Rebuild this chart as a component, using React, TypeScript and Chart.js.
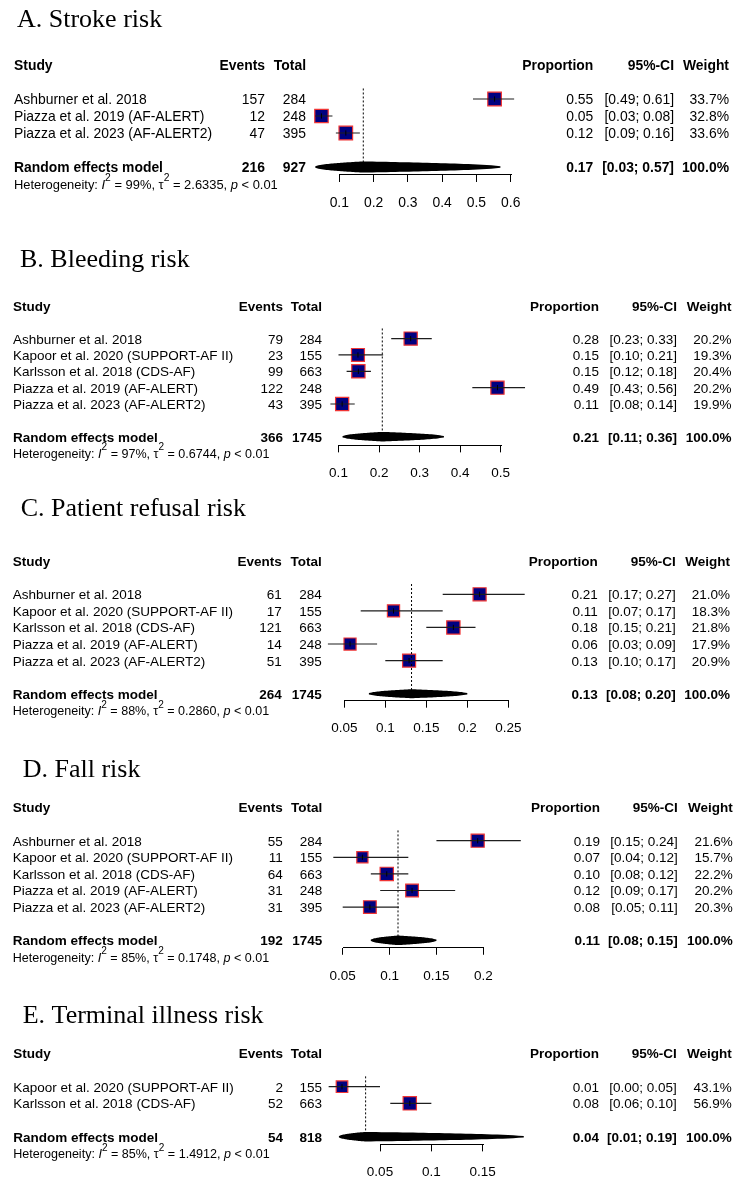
import React, { useEffect, useRef } from "react";
import { Chart, registerables } from "chart.js";

Chart.register(...registerables);

const SANS = '"Liberation Sans", Arial, Helvetica, sans-serif';
const SERIF = '"Liberation Serif", "Times New Roman", Times, serif';

// ---------------- A. Stroke risk ----------------
const titleA = "A. Stroke risk";
const studiesA = ["Ashburner et al. 2018", "Piazza et al. 2019 (AF-ALERT)", "Piazza et al. 2023 (AF-ALERT2)"];
const eventsA = [157, 12, 47];
const totalsA = [284, 248, 395];
const propA = [0.553, 0.048, 0.119];
const lowerA = [0.49, 0.03, 0.09];
const upperA = [0.61, 0.08, 0.16];
const weightA = [33.7, 32.8, 33.6];
const pooledCountsA = [216, 927];
const pooledEstA = [0.17, 0.03, 0.57];
const hetA = [99, 2.6335];
const ticksA = [0.1, 0.2, 0.3, 0.4, 0.5, 0.6];

// ---------------- B. Bleeding risk ----------------
const titleB = "B. Bleeding risk";
const studiesB = [
  "Ashburner et al. 2018",
  "Kapoor et al. 2020 (SUPPORT-AF II)",
  "Karlsson et al. 2018 (CDS-AF)",
  "Piazza et al. 2019 (AF-ALERT)",
  "Piazza et al. 2023 (AF-ALERT2)",
];
const eventsB = [79, 23, 99, 122, 43];
const totalsB = [284, 155, 663, 248, 395];
const propB = [0.278, 0.148, 0.149, 0.492, 0.109];
const lowerB = [0.23, 0.1, 0.12, 0.43, 0.08];
const upperB = [0.33, 0.21, 0.18, 0.56, 0.14];
const weightB = [20.2, 19.3, 20.4, 20.2, 19.9];
const pooledCountsB = [366, 1745];
const pooledEstB = [0.208, 0.11, 0.36];
const hetB = [97, 0.6744];
const ticksB = [0.1, 0.2, 0.3, 0.4, 0.5];

// ---------------- C. Patient refusal risk ----------------
const titleC = "C. Patient refusal risk";
const studiesC = studiesB;
const eventsC = [61, 17, 121, 14, 51];
const totalsC = [284, 155, 663, 248, 395];
const propC = [0.215, 0.11, 0.183, 0.057, 0.129];
const lowerC = [0.17, 0.07, 0.15, 0.03, 0.1];
const upperC = [0.27, 0.17, 0.21, 0.09, 0.17];
const weightC = [21.0, 18.3, 21.8, 17.9, 20.9];
const pooledCountsC = [264, 1745];
const pooledEstC = [0.132, 0.08, 0.2];
const hetC = [88, 0.286];
const ticksC = [0.05, 0.1, 0.15, 0.2, 0.25];

// ---------------- D. Fall risk ----------------
const titleD = "D. Fall risk";
const studiesD = studiesB;
const eventsD = [55, 11, 64, 31, 31];
const totalsD = [284, 155, 663, 248, 395];
const propD = [0.194, 0.071, 0.097, 0.124, 0.079];
const lowerD = [0.15, 0.04, 0.08, 0.09, 0.05];
const upperD = [0.24, 0.12, 0.12, 0.17, 0.11];
const weightD = [21.6, 15.7, 22.2, 20.2, 20.3];
const pooledCountsD = [192, 1745];
const pooledEstD = [0.109, 0.08, 0.15];
const hetD = [85, 0.1748];
const ticksD = [0.05, 0.1, 0.15, 0.2];

// ---------------- E. Terminal illness risk ----------------
const titleE = "E. Terminal illness risk";
const studiesE = ["Kapoor et al. 2020 (SUPPORT-AF II)", "Karlsson et al. 2018 (CDS-AF)"];
const eventsE = [2, 52];
const totalsE = [155, 663];
const propE = [0.013, 0.079];
const lowerE = [0.0, 0.06];
const upperE = [0.05, 0.1];
const weightE = [43.1, 56.9];
const pooledCountsE = [54, 818];
const pooledEstE = [0.036, 0.01, 0.19];
const hetE = [85, 1.4912];
const ticksE = [0.05, 0.1, 0.15];

type Panel = {
  title: string;
  studies: string[];
  events: number[];
  totals: number[];
  prop: number[];
  lower: number[];
  upper: number[];
  weight: number[];
  pooledCounts: number[];
  pooledEst: number[];
  het: number[];
  ticks: number[];
};

const panels: Panel[] = [
  { title: titleA, studies: studiesA, events: eventsA, totals: totalsA, prop: propA, lower: lowerA, upper: upperA, weight: weightA, pooledCounts: pooledCountsA, pooledEst: pooledEstA, het: hetA, ticks: ticksA },
  { title: titleB, studies: studiesB, events: eventsB, totals: totalsB, prop: propB, lower: lowerB, upper: upperB, weight: weightB, pooledCounts: pooledCountsB, pooledEst: pooledEstB, het: hetB, ticks: ticksB },
  { title: titleC, studies: studiesC, events: eventsC, totals: totalsC, prop: propC, lower: lowerC, upper: upperC, weight: weightC, pooledCounts: pooledCountsC, pooledEst: pooledEstC, het: hetC, ticks: ticksC },
  { title: titleD, studies: studiesD, events: eventsD, totals: totalsD, prop: propD, lower: lowerD, upper: upperD, weight: weightD, pooledCounts: pooledCountsD, pooledEst: pooledEstD, het: hetD, ticks: ticksD },
  { title: titleE, studies: studiesE, events: eventsE, totals: totalsE, prop: propE, lower: lowerE, upper: upperE, weight: weightE, pooledCounts: pooledCountsE, pooledEst: pooledEstE, het: hetE, ticks: ticksE },
];

// ---------------- Layout (page pixels) ----------------
type Layout = {
  top: number;
  titleX: number;
  titleBase: number;
  row0: number;
  rowH: number;
  axisOff: number;
  px0: number;
  px1: number;
  fs: number;
  cols: number[];
  textX: number;
  sqMax: number;
  diaH: number;
};

const layouts: Layout[] = [
  { top: 0, titleX: 17, titleBase: 27, row0: 99, rowH: 17, axisOff: 0.47, px0: 339.3, px1: 510.7, fs: 13.9, cols: [265, 306, 593.3, 674, 729], textX: 14, sqMax: 13.6, diaH: 5.6 },
  { top: 232, titleX: 20, titleBase: 266.7, row0: 338.6, rowH: 16.35, axisOff: 0.53, px0: 338.5, px1: 500.7, fs: 13.5, cols: [283, 322, 599, 677, 731.5], textX: 13, sqMax: 13.3, diaH: 4.8 },
  { top: 482, titleX: 20.7, titleBase: 516, row0: 594.3, rowH: 16.57, axisOff: 0.42, px0: 344.3, px1: 508.3, fs: 13.5, cols: [281.7, 321.7, 597.7, 675.7, 730], textX: 12.7, sqMax: 13.3, diaH: 4.5 },
  { top: 740, titleX: 22.7, titleBase: 776.7, row0: 840.7, rowH: 16.6, axisOff: 0.45, px0: 342.7, px1: 483.3, fs: 13.5, cols: [282.7, 322.3, 600, 677.7, 732.7], textX: 12.7, sqMax: 13.3, diaH: 4.8 },
  { top: 1000, titleX: 22.7, titleBase: 1023, row0: 1086.7, rowH: 16.67, axisOff: 0.46, px0: 380, px1: 482.7, fs: 13.5, cols: [283, 322, 599, 676.7, 731.7], textX: 13.3, sqMax: 13.3, diaH: 4.8 },
];

const TICK_LEN = 7;
const TICK_PAD = 13;
const TOP_ROW = -2.9;
const CANVAS_W = 744;
const AREA_L = 300;
const AREA_R = 545;

function ForestPanel({ p, L }: { p: Panel; L: Layout }) {
  const ref = useRef<HTMLCanvasElement | null>(null);
  const n = p.studies.length;
  const sumRow = n + 1;
  const chartTop = L.row0 + TOP_ROW * L.rowH - L.top;
  const chartBottom = L.row0 + (sumRow + L.axisOff) * L.rowH - L.top;
  const height = Math.ceil(chartBottom + 60);

  useEffect(() => {
    const canvas = ref.current;
    if (!canvas) return;
    const t0 = p.ticks[0];
    const t1 = p.ticks[p.ticks.length - 1];
    const perPx = (t1 - t0) / (L.px1 - L.px0);
    const xMin = t0 - (L.px0 - AREA_L) * perPx;
    const xMax = t1 + (AREA_R - L.px1) * perPx;

    const maxW = Math.max(...p.weight);
    const squares = p.prop.map((v, i) => ({ x: v, y: i }));
    const radii = p.weight.map((w) => (L.sqMax * Math.sqrt(w / maxW)) / Math.SQRT2);
    const ciData: any[] = [];
    p.lower.forEach((lo, i) => {
      ciData.push({ x: lo, y: i }, { x: p.upper[i], y: i }, { x: p.upper[i], y: null });
    });
    const [est, pLo, pHi] = p.pooledEst;

    const forestText = {
      id: "forestText",
      afterDraw(chart: any) {
        const ctx = chart.ctx as CanvasRenderingContext2D;
        const xs = chart.scales.x;
        const ys = chart.scales.y;
        const rowY = (r: number) => ys.getPixelForValue(r);
        const fN = `${L.fs}px ${SANS}`;
        const fB = `bold ${L.fs}px ${SANS}`;
        const base = L.fs * 0.37;
        const txt = (s: string, x: number, y: number, align: CanvasTextAlign, font: string) => {
          ctx.font = font;
          ctx.textAlign = align;
          ctx.fillText(s, x, y);
        };
        ctx.save();

        // axis line from first to last tick
        const ay = Math.round(chart.chartArea.bottom - 0.5) + 0.5;
        ctx.strokeStyle = "#000";
        ctx.lineWidth = 1;
        ctx.beginPath();
        ctx.moveTo(Math.round(xs.getPixelForValue(t0)), ay);
        ctx.lineTo(Math.round(xs.getPixelForValue(t1)) + 1, ay);
        ctx.stroke();

        ctx.fillStyle = "#000";
        ctx.textBaseline = "alphabetic";

        // pooled diamond
        const yc = rowY(sumRow);
        const xl = xs.getPixelForValue(pLo);
        const xe = xs.getPixelForValue(est);
        const xr = xs.getPixelForValue(pHi);
        const N = 30;
        const edge: [number, number][] = [];
        for (let k = 0; k <= N; k++) {
          const t = k / N;
          edge.push([xl + t * (xe - xl), Math.max(0.8, L.diaH * Math.pow(t, 0.45))]);
        }
        for (let k = N - 1; k >= 0; k--) {
          const t = k / N;
          edge.push([xr - t * (xr - xe), Math.max(0.8, L.diaH * Math.pow(t, 0.45))]);
        }
        ctx.beginPath();
        edge.forEach(([x, h], i) => (i === 0 ? ctx.moveTo(x, yc - h) : ctx.lineTo(x, yc - h)));
        for (let i = edge.length - 1; i >= 0; i--) ctx.lineTo(edge[i][0], yc + edge[i][1]);
        ctx.closePath();
        ctx.fill();

        // title
        txt(p.title, L.titleX, L.titleBase - L.top, "left", `26px ${SERIF}`);

        const [cE, cT, cP, cC, cW] = L.cols;
        // header
        const yh = rowY(-2) + base;
        txt("Study", L.textX, yh, "left", fB);
        txt("Events", cE, yh, "right", fB);
        txt("Total", cT, yh, "right", fB);
        txt("Proportion", cP, yh, "right", fB);
        txt("95%-CI", cC, yh, "right", fB);
        txt("Weight", cW, yh, "right", fB);

        // studies
        p.studies.forEach((s, i) => {
          const y = rowY(i) + base;
          txt(s, L.textX, y, "left", fN);
          txt(String(p.events[i]), cE, y, "right", fN);
          txt(String(p.totals[i]), cT, y, "right", fN);
          txt(p.prop[i].toFixed(2), cP, y, "right", fN);
          txt(`[${p.lower[i].toFixed(2)}; ${p.upper[i].toFixed(2)}]`, cC, y, "right", fN);
          txt(`${p.weight[i].toFixed(1)}%`, cW, y, "right", fN);
        });

        // pooled row
        const ys2 = rowY(sumRow) + base;
        txt("Random effects model", L.textX, ys2, "left", fB);
        txt(String(p.pooledCounts[0]), cE, ys2, "right", fB);
        txt(String(p.pooledCounts[1]), cT, ys2, "right", fB);
        txt(est.toFixed(2), cP, ys2, "right", fB);
        txt(`[${pLo.toFixed(2)}; ${pHi.toFixed(2)}]`, cC, ys2, "right", fB);
        txt("100.0%", cW, ys2, "right", fB);

        // heterogeneity
        const hf = L.fs * 0.93;
        const sf = hf * 0.8;
        const yhet = rowY(sumRow + 1) + hf * 0.37;
        const segs: { t: string; it?: boolean; sup?: boolean }[] = [
          { t: "Heterogeneity: " },
          { t: "I", it: true },
          { t: "2", sup: true },
          { t: ` = ${p.het[0]}%, ` },
          { t: "\u03c4" },
          { t: "2", sup: true },
          { t: ` = ${p.het[1].toFixed(4)}, ` },
          { t: "p", it: true },
          { t: " < 0.01" },
        ];
        let cx = L.textX;
        ctx.textAlign = "left";
        segs.forEach((sg) => {
          ctx.font = sg.sup ? `${sf}px ${SANS}` : sg.it ? `italic ${hf}px ${SANS}` : `${hf}px ${SANS}`;
          const yy = sg.sup ? yhet - hf * 0.58 : yhet;
          ctx.fillText(sg.t, cx, yy);
          cx += ctx.measureText(sg.t).width;
        });
        ctx.restore();
      },
    };

    const chart = new Chart(canvas, {
      type: "scatter",
      data: {
        datasets: [
          {
            type: "scatter",
            data: squares,
            pointStyle: "line",
            rotation: 90,
            pointRadius: 2.6,
            borderColor: "#000",
            borderWidth: 1,
            clip: false,
          } as any,
          {
            type: "line",
            data: ciData,
            borderColor: "#1e1e1e",
            borderWidth: 1.2,
            pointRadius: 0,
            spanGaps: false,
            tension: 0,
            clip: false,
          } as any,
          {
            type: "line",
            data: [
              { x: est, y: -0.62 },
              { x: est, y: sumRow },
            ],
            borderColor: "#000",
            borderWidth: 1,
            borderDash: [2, 2],
            pointRadius: 0,
            clip: false,
          } as any,
          {
            type: "scatter",
            data: squares,
            pointStyle: "rect",
            pointRadius: radii,
            backgroundColor: "#000080",
            borderColor: "#f03535",
            borderWidth: 1.2,
            clip: false,
          } as any,
        ],
      },
      options: {
        animation: false,
        responsive: false,
        maintainAspectRatio: false,
        devicePixelRatio: 1,
        events: [],
        layout: { padding: { left: AREA_L, right: CANVAS_W - AREA_R, top: chartTop, bottom: 0 } },
        plugins: { legend: { display: false }, tooltip: { enabled: false }, title: { display: false } },
        scales: {
          x: {
            type: "linear",
            position: "bottom",
            bounds: "data",
            afterDataLimits: (s: any) => {
              s.min = xMin;
              s.max = xMax;
            },
            afterBuildTicks: (s: any) => {
              s.ticks = p.ticks.map((v) => ({ value: v }));
            },
            ticks: {
              autoSkip: false,
              maxRotation: 0,
              minRotation: 0,
              padding: TICK_PAD,
              color: "#000",
              font: { family: SANS, size: L.fs },
              callback: (v: any) => String(v),
            },
            grid: { display: true, drawOnChartArea: false, drawTicks: true, tickLength: TICK_LEN, color: "#000", lineWidth: 1 },
            border: { display: false },
          },
          y: { type: "linear", display: false, reverse: true, min: TOP_ROW, max: sumRow + L.axisOff },
        },
      } as any,
      plugins: [forestText],
    });
    // place the axis exactly: chart-area bottom at the wanted pixel
    const xH = chart.scales.x.height;
    const padBottom = Math.max(0, height - chartBottom - xH);
    (chart.options as any).layout.padding.bottom = padBottom;
    chart.update();
    return () => chart.destroy();
  }, [p, L]);

  return (
    <canvas
      ref={ref}
      width={CANVAS_W}
      height={height}
      style={{ position: "absolute", left: 0, top: L.top, width: CANVAS_W, height, display: "block" }}
    />
  );
}

export default function App() {
  return (
    <div style={{ position: "absolute", left: 0, top: 0, width: 744, height: 1182, background: "#fff", overflow: "hidden" }}>
      {panels.map((p, i) => (
        <ForestPanel key={i} p={p} L={layouts[i]} />
      ))}
    </div>
  );
}
